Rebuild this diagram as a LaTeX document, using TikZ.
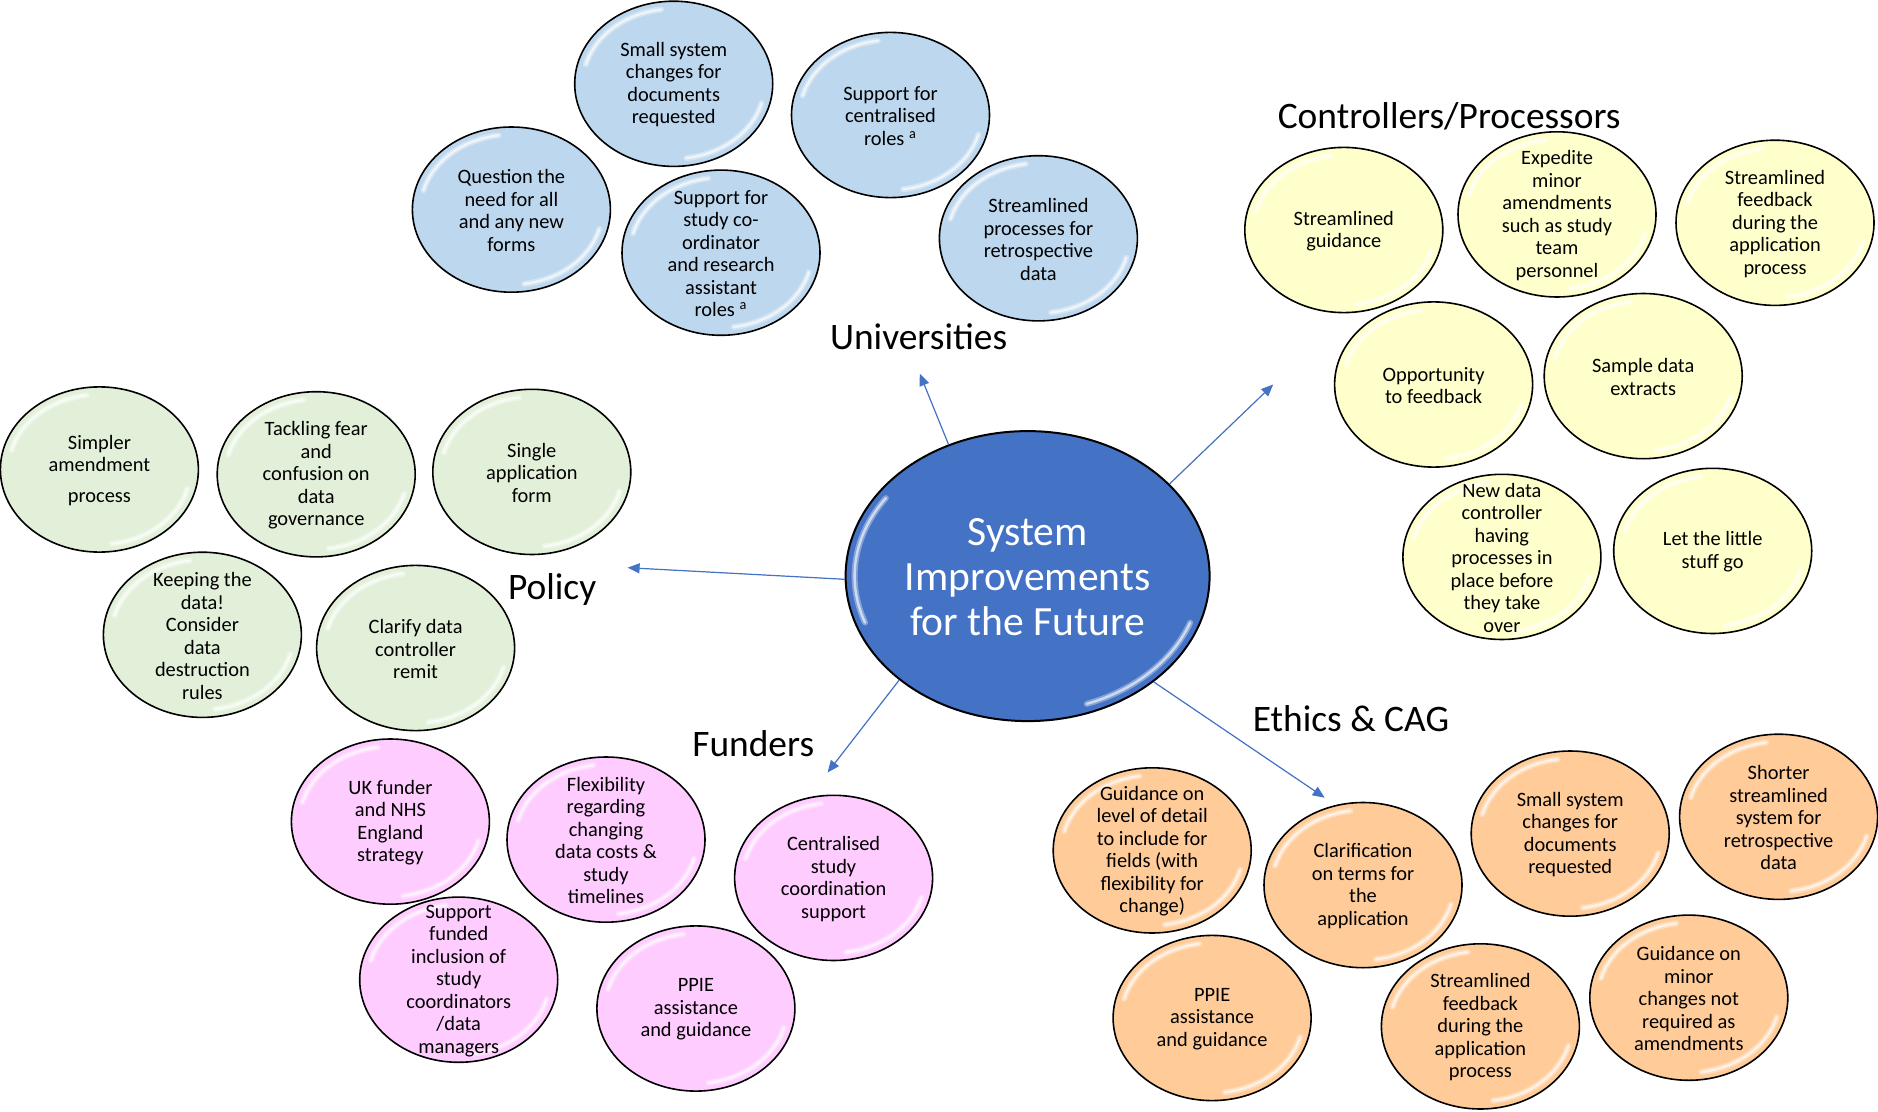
\documentclass[tikz,border=0pt]{standalone}
\usepackage{fontspec}
\setmainfont{Carlito}
\usetikzlibrary{shapes.geometric,arrows.meta}
\definecolor{cblue}{HTML}{BDD7EE}
\definecolor{cyellow}{HTML}{FFFFCC}
\definecolor{cgreen}{HTML}{E2F0D9}
\definecolor{cpink}{HTML}{FFCCFF}
\definecolor{corange}{HTML}{FFCC99}
\definecolor{ccenter}{HTML}{4472C4}
\definecolor{carrow}{HTML}{4472C4}
\tikzset{
  bubble/.style={ellipse, draw=black, line width=0.8pt, minimum width=99pt, minimum height=82.6pt, inner sep=0pt},
  btext/.style={align=center, inner sep=0pt, font=\fontsize{10.2pt}{11.25pt}\selectfont, text=black},
  glow/.style={white, opacity=0.35, line width=3pt, line cap=round},
  glowcore/.style={white, opacity=0.6, line width=1.2pt, line cap=round},
  grouplabel/.style={inner sep=0pt, font=\fontsize{18.7pt}{22pt}\selectfont, text=black},
  arr/.style={draw=carrow, line width=0.6pt, -{Triangle[length=6pt,width=5pt]}, fill=carrow},
}
\newcommand\mybub[5]{%
  \node[bubble, fill=#4] (#1) at (#2,#3) {};
  \foreach \gs in {glow,glowcore}{%
    \draw[\gs] (#1.center) ++(195:91 and 75) arc[start angle=195, end angle=262, x radius=91, y radius=75];
    \draw[\gs] (#1.center) ++(15:91 and 75) arc[start angle=15, end angle=82, x radius=91, y radius=75];
  }%
  \node[btext] (#1t) at ([yshift=-0.5pt]#1.center) {#5};%
}
\begin{document}
\begin{tikzpicture}[x=0.5pt, y=-0.5pt]
\fill[white] (0,0) rectangle (1878,1112);
\useasboundingbox (0,0) rectangle (1878,1112);

% centre
\node[ellipse, draw=black, line width=1pt, fill=ccenter, minimum width=182pt, minimum height=145pt, inner sep=0pt] (c) at (1027.6,576.1) {};
\foreach \gs in {glow,glowcore}{%
  \draw[\gs] (c.center) ++(160:173 and 136) arc[start angle=160, end angle=215, x radius=173, y radius=136];
  \draw[\gs] (c.center) ++(20:173 and 136) arc[start angle=20, end angle=70, x radius=173, y radius=136];
}
\node[align=center, inner sep=0pt, text=white, font=\fontsize{20.8pt}{22.5pt}\selectfont] (ct) at ([yshift=-0.5pt]c.center) {System\\Improvements\\for the Future};

% Universities
\mybub{b1}{673.7}{83.8}{cblue}{Small system\\changes for\\documents\\requested}
\mybub{b2}{890.5}{115.0}{cblue}{Support for\\centralised\\roles \textsuperscript{a}}
\mybub{b3}{511.4}{209.6}{cblue}{Question the\\need for all\\and any new\\forms}
\mybub{b4}{721.0}{252.7}{cblue}{Support for\\study co-\\ordinator\\and research\\assistant\\roles \textsuperscript{a}}
\mybub{b5}{1038.4}{238.3}{cblue}{Streamlined\\processes for\\retrospective\\data}
\node[grouplabel] (lu) at (918.6,336.5) {Universities};

% Controllers/Processors
\node[grouplabel] (lc) at (1449.2,116.2) {Controllers/Processors};
\mybub{y1}{1343.8}{230.0}{cyellow}{Streamlined\\guidance}
\mybub{y2}{1557.0}{214.4}{cyellow}{Expedite\\minor\\amendments\\such as study\\team\\personnel}
\mybub{y3}{1775.0}{222.8}{cyellow}{Streamlined\\feedback\\during the\\application\\process}
\mybub{y4}{1433.6}{384.5}{cyellow}{Opportunity\\to feedback}
\mybub{y5}{1643.2}{376.1}{cyellow}{Sample data\\extracts}
\mybub{y6}{1501.9}{556.9}{cyellow}{New data\\controller\\having\\processes in\\place before\\they take\\over}
\mybub{y7}{1712.7}{550.9}{cyellow}{Let the little\\stuff go}

% Policy
\node[grouplabel] (lp) at (552.1,589.3) {Policy};
\mybub{g1}{99.4}{469.5}{cgreen}{Simpler\\amendment\\[4.2pt]process}
\mybub{g2}{316.2}{474.3}{cgreen}{Tackling fear\\and\\confusion on\\data\\governance}
\mybub{g3}{531.8}{471.9}{cgreen}{Single\\application\\form}
\mybub{g4}{202.4}{634.8}{cgreen}{Keeping the\\data!\\Consider\\data\\destruction\\rules}
\mybub{g5}{415.6}{648.0}{cgreen}{Clarify data\\controller\\remit}

% Funders
\node[grouplabel] (lf) at (753.3,743.8) {Funders};
\mybub{p1}{390.4}{821.6}{cpink}{UK funder\\and NHS\\England\\strategy}
\mybub{p2}{606.0}{839.6}{cpink}{Flexibility\\regarding\\changing\\data costs \&\\study\\timelines}
\mybub{p3}{833.6}{877.9}{cpink}{Centralised\\study\\coordination\\support}
\mybub{p4}{458.7}{979.7}{cpink}{Support\\funded\\inclusion of\\study\\coordinators\\/data\\managers}
\mybub{p5}{695.9}{1008.5}{cpink}{PPIE\\assistance\\and guidance}

% Ethics & CAG
\node[grouplabel] (le) at (1351.0,718.6) {Ethics \& CAG};
\mybub{o1}{1152.2}{850.4}{corange}{Guidance on\\level of detail\\to include for\\fields (with\\flexibility for\\change)}
\mybub{o2}{1363.0}{885.1}{corange}{Clarification\\on terms for\\the\\application}
\mybub{o3}{1570.2}{833.6}{corange}{Small system\\changes for\\documents\\requested}
\mybub{o4}{1778.6}{816.8}{corange}{Shorter\\streamlined\\system for\\retrospective\\data}
\mybub{o5}{1212.1}{1018.0}{corange}{PPIE\\assistance\\and guidance}
\mybub{o6}{1480.4}{1026.4}{corange}{Streamlined\\feedback\\during the\\application\\process}
\mybub{o7}{1688.8}{997.7}{corange}{Guidance on\\minor\\changes not\\required as\\amendments}

% arrows
\coordinate (tU) at (919.8,373.7);
\coordinate (tC) at (1273.2,384.5);
\coordinate (tP) at (627.6,567.7);
\coordinate (tF) at (827.6,772.5);
\coordinate (tE) at (1324.7,797.7);
\draw[arr] (c.121) -- (tU);
\draw[arr] (c.33) -- (tC);
\draw[arr] (c.181) -- (tP);
\draw[arr] (c.219) -- (tF);
\draw[arr] (c.320) -- (tE);
\end{tikzpicture}
\end{document}
